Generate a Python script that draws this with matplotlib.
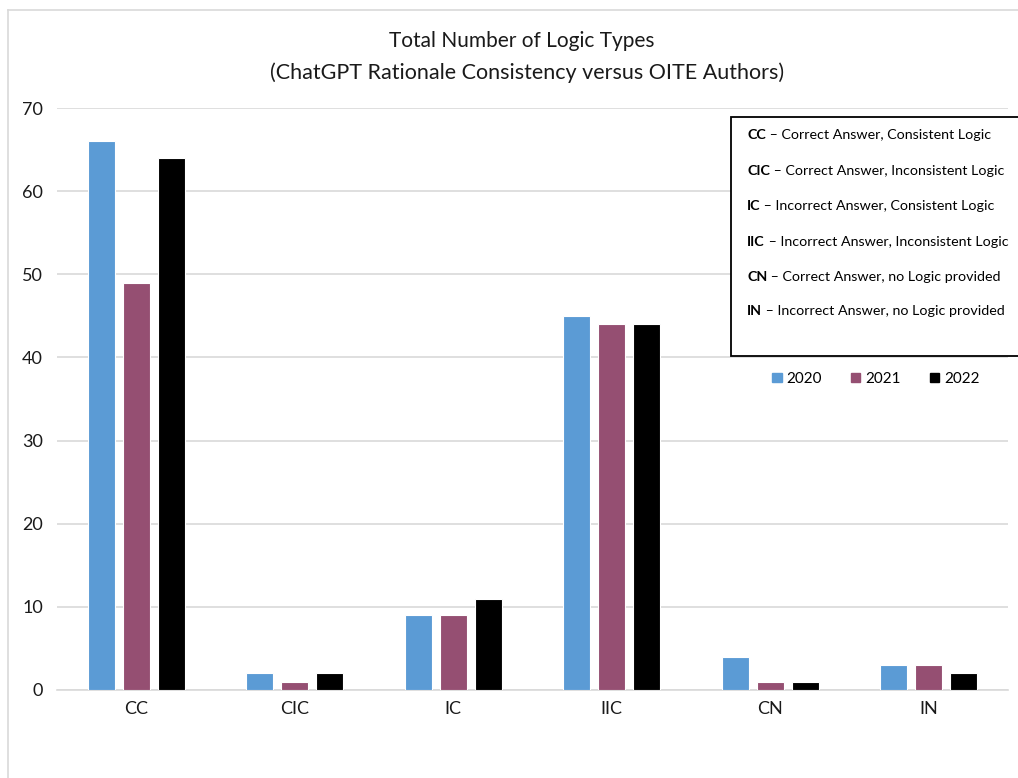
import numpy as np
import matplotlib
matplotlib.use('Agg')
import matplotlib.pyplot as plt
from matplotlib.lines import Line2D
from matplotlib.patches import Rectangle

plt.rcParams['font.family'] = ['Lato', 'DejaVu Sans']

categories = ['CC', 'CIC', 'IC', 'IIC', 'CN', 'IN']
years = ['2020', '2021', '2022']
vals_2020 = [66, 2, 9, 45, 4, 3]
vals_2021 = [49, 1, 9, 44, 1, 3]
vals_2022 = [64, 2, 11, 44, 1, 2]
colors = ['#5B9BD5', '#954F72', '#000000']

key_abbr = ['CC', 'CIC', 'IC', 'IIC', 'CN', 'IN']
key_text = ['Correct Answer, Consistent Logic',
            'Correct Answer, Inconsistent Logic',
            'Incorrect Answer, Consistent Logic',
            'Incorrect Answer, Inconsistent Logic',
            'Correct Answer, no Logic provided',
            'Incorrect Answer, no Logic provided']

W, H = 1018, 778
fig = plt.figure(figsize=(W / 100, H / 100), dpi=100)
ax = fig.add_axes([57 / W, 1 - 690 / H, (1008 - 57) / W, (690 - 108) / H])

x = np.arange(len(categories))
width = 0.17
step = 0.222
for i, (vals, c, yr) in enumerate(zip([vals_2020, vals_2021, vals_2022], colors, years)):
    ax.bar(x + (i - 1) * step, vals, width, color=c, edgecolor='white',
           linewidth=0.8, label=yr, zorder=3)

ax.set_xlim(-0.5, len(categories) - 0.5)
ax.set_ylim(0, 70)
ax.set_yticks(range(0, 71, 10))
ax.set_xticks(x)
ax.set_xticklabels(categories)
ax.tick_params(axis='both', length=0, labelsize=13, colors='#1a1a1a')
ax.tick_params(axis='y', pad=10)
ax.tick_params(axis='x', pad=8)
ax.grid(axis='y', color='#d9d9d9', linewidth=1.2, zorder=0)
for s in ['top', 'right', 'left']:
    ax.spines[s].set_visible(False)
ax.spines['bottom'].set_color('#d9d9d9')
ax.spines['bottom'].set_linewidth(1.2)

fig.text(522 / W, 1 - 41 / H, 'Total Number of Logic Types', ha='center', va='center',
         fontsize=15, color='#1a1a1a')
fig.text(527 / W, 1 - 73 / H, '(ChatGPT Rationale Consistency versus OITE Authors)',
         ha='center', va='center', fontsize=15.5, color='#1a1a1a')

# outer chart frame
fig.add_artist(Line2D([8 / W, 1], [1 - 10 / H, 1 - 10 / H], color='#d9d9d9', lw=1.2))
fig.add_artist(Line2D([8 / W, 8 / W], [0, 1 - 10 / H], color='#d9d9d9', lw=1.2))

# key box
fig.add_artist(Rectangle((731 / W, 1 - 356 / H), (W - 731) / W + 0.01, (356 - 117) / H,
                         transform=fig.transFigure, facecolor='white',
                         edgecolor='black', lw=1.3, zorder=5))
key_y = [135, 171, 206, 242, 277, 311]
for ab, tx, yy in zip(key_abbr, key_text, key_y):
    t = fig.text(747 / W, 1 - yy / H, ab, ha='left', va='center', fontsize=10.3,
                 fontweight='bold', color='black', zorder=6)
    fig.canvas.draw()
    bb = t.get_window_extent()
    fig.text(bb.x1 / W, 1 - yy / H, ' \u2013 ' + tx, ha='left', va='center',
             fontsize=10.3, color='black', zorder=6)

# year legend
handles = [Rectangle((0, 0), 1, 1, color=c) for c in colors]
fig.legend(handles, years, loc='center', bbox_to_anchor=(876 / W, 1 - 379 / H),
           ncol=3, frameon=False, fontsize=11, handlelength=0.6, handleheight=0.6,
           handletextpad=0.33, columnspacing=1.9)

fig.savefig('out.png', dpi=100)
